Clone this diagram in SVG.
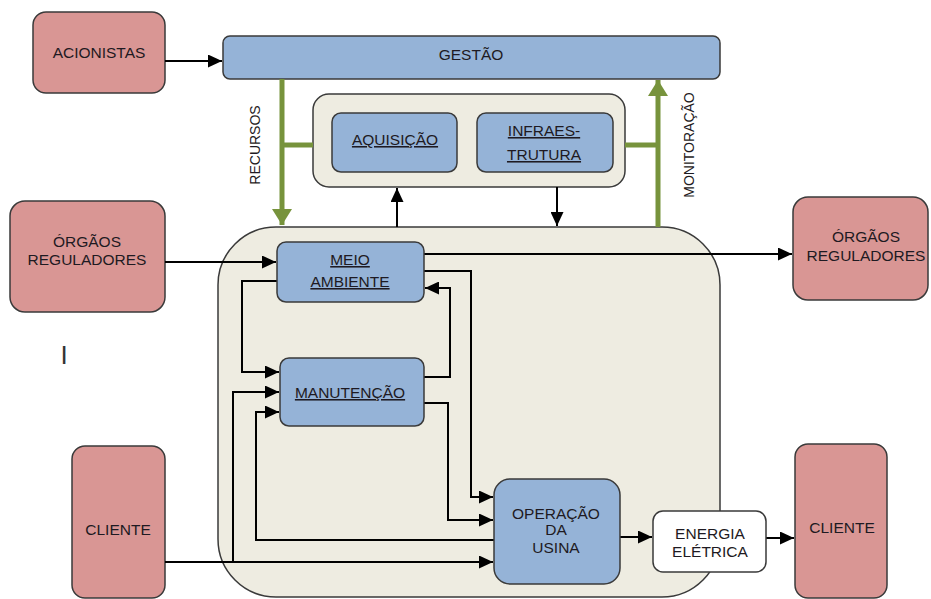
<svg xmlns="http://www.w3.org/2000/svg" width="931" height="599" viewBox="0 0 931 599">
<defs>
<marker id="ah" markerUnits="userSpaceOnUse" markerWidth="14" markerHeight="13" viewBox="0 0 14 13" refX="14" refY="6.5" orient="auto"><path d="M0,0 L14,6.5 L0,13 z" fill="#000"/></marker>
<marker id="gh" markerUnits="userSpaceOnUse" markerWidth="16" markerHeight="20" viewBox="0 0 16 20" refX="16" refY="10" orient="auto"><path d="M0,0 L16,10 L0,20 z" fill="#77933C"/></marker>
</defs>
<style>
text{font-family:"Liberation Sans",Arial,sans-serif;font-size:15.5px;fill:#1e1a22;text-anchor:middle}
.v{font-size:14px}
.u{text-decoration:underline}
.pink{fill:#D99694;stroke:#3a3a3a;stroke-width:1.5}
.blue{fill:#95B3D7;stroke:#3a3a3a;stroke-width:1.5}
.beige{fill:#EEECE1;stroke:#3a3a3a;stroke-width:1.5}
.white{fill:#fff;stroke:#3a3a3a;stroke-width:1.5}
.c{fill:none;stroke:#000;stroke-width:2;marker-end:url(#ah)}
.g{fill:none;stroke:#77933C;stroke-width:5}
</style>
<rect width="931" height="599" fill="#fff"/>
<g id="container-main"><rect class="beige" x="218" y="227" width="502" height="370" rx="58"/></g>
<g id="acionistas"><rect class="pink" x="33" y="12" width="132" height="81" rx="13"/><text x="99" y="58">ACIONISTAS</text></g>
<g id="gestao"><rect class="blue" x="223" y="36" width="497" height="43" rx="7"/><text x="471" y="60">GESTÃO</text></g>
<g id="container-top"><rect class="beige" x="313" y="94" width="312" height="93" rx="16"/></g>
<g id="aquisicao"><rect class="blue" x="332" y="113" width="125" height="59" rx="9"/><text class="u" x="395" y="145">AQUISIÇÃO</text></g>
<g id="infraestrutura"><rect class="blue" x="477" y="113" width="136" height="59" rx="9"/><text class="u" x="544" y="136">INFRAES-</text><text class="u" x="544" y="160">TRUTURA</text></g>
<g id="orgaos-esq"><rect class="pink" x="10" y="201" width="155" height="111" rx="15"/><text x="87" y="247">ÓRGÃOS</text><text x="87" y="265">REGULADORES</text></g>
<g id="orgaos-dir"><rect class="pink" x="793" y="197" width="135" height="103" rx="15"/><text x="866" y="242">ÓRGÃOS</text><text x="866" y="261">REGULADORES</text></g>
<g id="cliente-esq"><rect class="pink" x="72" y="446" width="93" height="152" rx="13"/><text x="118" y="535">CLIENTE</text></g>
<g id="cliente-dir"><rect class="pink" x="795" y="444" width="92" height="154" rx="13"/><text x="842" y="533">CLIENTE</text></g>
<g id="marca"><text x="64" y="364" style="font-size:26px;fill:#333">I</text></g>
<g id="connectors">
<path class="g" d="M282,79 V225" marker-end="url(#gh)"/>
<path class="g" d="M282,145 H313"/>
<path class="g" d="M658,227 V80" marker-end="url(#gh)"/>
<path class="g" d="M625,145 H658"/>
<path class="c" d="M165,61 H222"/>
<path class="c" d="M397,227 V188"/>
<path class="c" d="M557,187 V226"/>
<path class="c" d="M165,262 H276"/>
<path class="c" d="M424,254 H792"/>
<path class="c" d="M277,281 H242 V372 H279"/>
<path class="c" d="M165,562 H493"/>
<path class="c" d="M233,562 V392 H279"/>
<path class="c" d="M494,540 H256 V412 H279"/>
<path class="c" d="M424,271 H471 V497 H493"/>
<path class="c" d="M424,377 H450 V288 H425"/>
<path class="c" d="M424,403 H448 V520 H493"/>
<path class="c" d="M620,537 H652"/>
<path class="c" d="M766,538 H794"/>
</g>
<g id="meio-ambiente"><rect class="blue" x="277" y="242" width="147" height="60" rx="9"/><text class="u" x="350" y="265">MEIO</text><text class="u" x="350" y="287">AMBIENTE</text></g>
<g id="manutencao"><rect class="blue" x="280" y="358" width="144" height="68" rx="9"/><text class="u" x="350" y="398">MANUTENÇÃO</text></g>
<g id="operacao"><rect class="blue" x="494" y="479" width="126" height="105" rx="16"/><text x="556" y="519">OPERAÇÃO</text><text x="556" y="535">DA</text><text x="556" y="553">USINA</text></g>
<g id="energia"><rect class="white" x="653" y="511" width="113" height="61" rx="10"/><text x="710" y="539">ENERGIA</text><text x="710" y="557">ELÉTRICA</text></g>
<g id="labels"><text class="v" transform="translate(260,145) rotate(-90)">RECURSOS</text><text class="v" transform="translate(694,145) rotate(-90)">MONITORAÇÃO</text></g>
</svg>
